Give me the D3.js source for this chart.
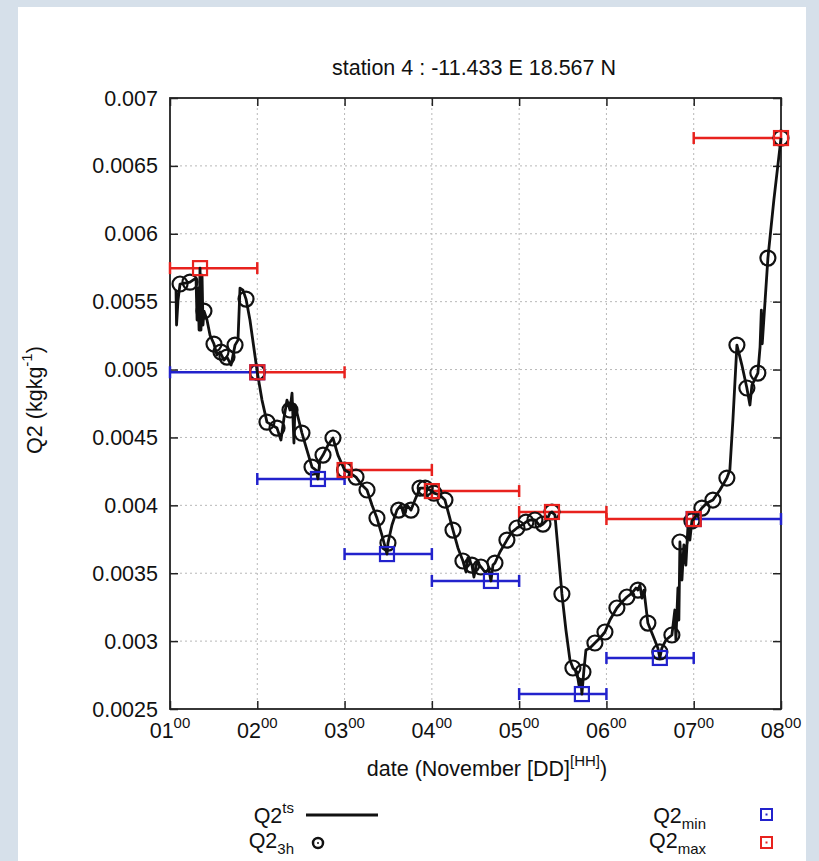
<!DOCTYPE html>
<html>
<head>
<meta charset="utf-8">
<script src="https://cdn.jsdelivr.net/npm/d3@7/dist/d3.min.js"></script>
<style>
  html, body { margin: 0; padding: 0; }
  body { width: 819px; height: 861px; overflow: hidden; background: #d6e0ea; }
  svg text { font-family: "Liberation Sans", Arial, sans-serif; fill: #111; }
</style>
</head>
<body>
<svg id="chart" width="819" height="861"></svg>
<script>
// ---------- data ----------
const title = "station 4 : -11.433 E 18.567 N";
const xTickDays = [1, 2, 3, 4, 5, 6, 7, 8];
const xTickLabels = ["01", "02", "03", "04", "05", "06", "07", "08"];
const xTickHour = "00";
const yTicks = [0.0025, 0.003, 0.0035, 0.004, 0.0045, 0.005, 0.0055, 0.006, 0.0065, 0.007];
const yTickLabels = ["0.0025", "0.003", "0.0035", "0.004", "0.0045", "0.005", "0.0055", "0.006", "0.0065", "0.007"];

// high-frequency time series Q2^ts (time in days of November, value in kg/kg)
const tsTime = [
  1.069, 1.075, 1.092, 1.115, 1.172, 1.229, 1.263, 1.298, 1.310, 1.321, 1.333, 1.344, 1.355, 1.367, 1.378, 1.389,
  1.424, 1.458, 1.504, 1.538, 1.573, 1.619, 1.653, 1.700, 1.745, 1.779, 1.802, 1.836, 1.871, 1.916, 2.000,
  2.054, 2.111, 2.168, 2.226, 2.271, 2.306, 2.340, 2.375, 2.398, 2.420, 2.432, 2.512, 2.569, 2.627, 2.672,
  2.695, 2.718, 2.753, 2.810, 2.867, 2.924, 3.000,
  3.062, 3.131, 3.199, 3.257, 3.314, 3.371, 3.428, 3.474, 3.486, 3.497, 3.543, 3.600, 3.646, 3.680, 3.715,
  3.761, 3.806, 3.864, 3.924, 4.000,
  4.024, 4.092, 4.150, 4.196, 4.242, 4.299, 4.356, 4.391, 4.413, 4.459, 4.482, 4.517, 4.562, 4.608, 4.654,
  4.677, 4.700, 4.723, 4.780, 4.860, 4.918, 4.975,
  5.032, 5.078, 5.124, 5.181, 5.238, 5.273, 5.318, 5.353, 5.376, 5.410, 5.444, 5.490, 5.536, 5.582, 5.616,
  5.662, 5.685, 5.708, 5.719, 5.742, 5.765, 5.811, 5.868, 5.926, 5.983,
  6.040, 6.120, 6.178, 6.235, 6.292, 6.338, 6.361, 6.384, 6.407, 6.430, 6.475, 6.544, 6.589, 6.612, 6.635,
  6.681, 6.750, 6.784, 6.796, 6.819, 6.830, 6.842, 6.865, 6.887, 6.910, 6.933, 6.956, 6.979, 7.000,
  7.037, 7.094, 7.151, 7.220, 7.300, 7.380, 7.414, 7.449, 7.495, 7.552, 7.609, 7.644, 7.667, 7.735, 7.760,
  7.775, 7.785, 7.850, 7.918, 8.000
];
const tsValue = [
  5.585e-3, 5.328e-3, 5.512e-3, 5.630e-3, 5.637e-3, 5.644e-3, 5.659e-3, 5.674e-3, 5.365e-3, 5.600e-3, 5.291e-3, 5.747e-3, 5.291e-3, 5.696e-3, 5.328e-3, 5.431e-3,
  5.365e-3, 5.254e-3, 5.188e-3, 5.107e-3, 5.129e-3, 5.070e-3, 5.092e-3, 5.033e-3, 5.180e-3, 5.217e-3, 5.600e-3, 5.585e-3, 5.519e-3, 5.365e-3, 4.980e-3,
  4.775e-3, 4.613e-3, 4.591e-3, 4.569e-3, 4.481e-3, 4.643e-3, 4.775e-3, 4.702e-3, 4.827e-3, 4.459e-3, 4.739e-3, 4.532e-3, 4.407e-3, 4.282e-3, 4.260e-3,
  4.194e-3, 4.334e-3, 4.370e-3, 4.444e-3, 4.496e-3, 4.370e-3, 4.260e-3,
  4.238e-3, 4.208e-3, 4.149e-3, 4.113e-3, 4.002e-3, 3.906e-3, 3.781e-3, 3.671e-3, 3.641e-3, 3.722e-3, 3.855e-3, 3.965e-3, 4.002e-3, 3.929e-3, 4.002e-3,
  3.965e-3, 4.039e-3, 4.127e-3, 4.127e-3, 4.105e-3,
  4.090e-3, 4.076e-3, 4.039e-3, 3.929e-3, 3.818e-3, 3.686e-3, 3.590e-3, 3.509e-3, 3.612e-3, 3.560e-3, 3.472e-3, 3.582e-3, 3.546e-3, 3.509e-3, 3.524e-3,
  3.443e-3, 3.560e-3, 3.575e-3, 3.656e-3, 3.744e-3, 3.803e-3, 3.833e-3,
  3.855e-3, 3.877e-3, 3.892e-3, 3.892e-3, 3.848e-3, 3.862e-3, 3.892e-3, 3.944e-3, 3.951e-3, 3.929e-3, 3.686e-3, 3.347e-3, 3.082e-3, 2.861e-3, 2.802e-3,
  2.772e-3, 2.677e-3, 2.714e-3, 2.610e-3, 2.787e-3, 2.934e-3, 2.949e-3, 2.986e-3, 3.023e-3, 3.067e-3,
  3.155e-3, 3.244e-3, 3.288e-3, 3.325e-3, 3.354e-3, 3.391e-3, 3.376e-3, 3.413e-3, 3.317e-3, 3.376e-3, 3.133e-3, 3.023e-3, 2.949e-3, 2.876e-3, 2.949e-3,
  3.008e-3, 3.045e-3, 3.229e-3, 3.008e-3, 3.391e-3, 3.155e-3, 3.730e-3, 3.450e-3, 3.708e-3, 3.560e-3, 3.833e-3, 3.744e-3, 3.885e-3, 3.899e-3,
  3.929e-3, 3.980e-3, 4.017e-3, 4.039e-3, 4.113e-3, 4.201e-3, 4.260e-3, 4.628e-3, 5.180e-3, 5.033e-3, 4.864e-3, 4.739e-3, 4.886e-3, 4.974e-3, 5.166e-3,
  5.438e-3, 5.190e-3, 5.821e-3, 6.248e-3, 6.705e-3
];

// 3-hourly samples Q2_3h
const h3Time = [
  1.115, 1.229, 1.389, 1.504, 1.584, 1.653, 1.745, 1.871, 2.000,
  2.111, 2.226, 2.375, 2.512, 2.627, 2.753, 2.867, 3.000,
  3.131, 3.257, 3.371, 3.497, 3.620, 3.761, 3.864, 3.924, 4.024,
  4.150, 4.242, 4.356, 4.459, 4.562, 4.723, 4.860, 4.975,
  5.078, 5.181, 5.273, 5.376, 5.490, 5.616, 5.731, 5.868, 5.983,
  6.120, 6.235, 6.361, 6.475, 6.612, 6.750, 6.842, 6.979,
  7.094, 7.220, 7.380, 7.495, 7.609, 7.735, 7.850, 8.000
];
const h3Value = [
  5.630e-3, 5.644e-3, 5.431e-3, 5.188e-3, 5.129e-3, 5.092e-3, 5.180e-3, 5.519e-3, 4.980e-3,
  4.613e-3, 4.569e-3, 4.702e-3, 4.532e-3, 4.282e-3, 4.370e-3, 4.496e-3, 4.260e-3,
  4.208e-3, 4.113e-3, 3.906e-3, 3.722e-3, 3.965e-3, 3.965e-3, 4.127e-3, 4.127e-3, 4.090e-3,
  4.039e-3, 3.818e-3, 3.590e-3, 3.560e-3, 3.546e-3, 3.575e-3, 3.744e-3, 3.833e-3,
  3.877e-3, 3.892e-3, 3.862e-3, 3.951e-3, 3.347e-3, 2.802e-3, 2.772e-3, 2.986e-3, 3.067e-3,
  3.244e-3, 3.325e-3, 3.376e-3, 3.133e-3, 2.920e-3, 3.045e-3, 3.730e-3, 3.885e-3,
  3.980e-3, 4.039e-3, 4.201e-3, 5.180e-3, 4.864e-3, 4.974e-3, 5.821e-3, 6.705e-3
];

// daily extremes: each bar spans its day [dayStart, dayStart+1]
const dayStart = [1, 2, 3, 4, 5, 6, 7];
const minTime = [2.000, 2.695, 3.486, 4.677, 5.719, 6.612, 7.000];
const minValue = [4.980e-3, 4.194e-3, 3.641e-3, 3.443e-3, 2.610e-3, 2.876e-3, 3.899e-3];
const maxTime = [1.344, 2.000, 3.000, 4.000, 5.376, 7.000, 8.000];
const maxValue = [5.747e-3, 4.980e-3, 4.260e-3, 4.105e-3, 3.951e-3, 3.899e-3, 6.705e-3];

// ---------- drawing ----------
const svg = d3.select("#chart");
const W = 819, H = 861;
const plot = { left: 170, right: 781, top: 98, bottom: 709 };
const x = d3.scaleLinear().domain([1, 8]).range([plot.left, plot.right]);
const y = d3.scaleLinear().domain([0.0025, 0.007]).range([plot.bottom, plot.top]);

const RED = "#e8221e", BLUE = "#2222cc";
const FS = 21.5, FSS = 15;

// white panel
svg.append("rect").attr("x", 18).attr("y", 7).attr("width", 788).attr("height", H - 7).attr("fill", "#ffffff");

// grid
const grid = svg.append("g").attr("stroke", "#b8b8b8").attr("stroke-width", 1).attr("stroke-dasharray", "2,3");
grid.selectAll("line.gx").data(xTickDays.slice(1, -1)).join("line")
  .attr("x1", d => x(d)).attr("x2", d => x(d)).attr("y1", plot.top).attr("y2", plot.bottom);
grid.selectAll("line.gy").data(yTicks.slice(1, -1)).join("line")
  .attr("x1", plot.left).attr("x2", plot.right).attr("y1", d => y(d)).attr("y2", d => y(d));

// axes (inward ticks, mirrored)
const tk = 8;
const axL = svg.append("g").attr("transform", `translate(${plot.left},0)`)
  .call(d3.axisRight(y).tickValues(yTicks).tickSize(tk).tickFormat(""));
const axR = svg.append("g").attr("transform", `translate(${plot.right},0)`)
  .call(d3.axisLeft(y).tickValues(yTicks).tickSize(tk).tickFormat(""));
const axB = svg.append("g").attr("transform", `translate(0,${plot.bottom})`)
  .call(d3.axisTop(x).tickValues(xTickDays).tickSize(tk).tickFormat(""));
const axT = svg.append("g").attr("transform", `translate(0,${plot.top})`)
  .call(d3.axisBottom(x).tickValues(xTickDays).tickSize(tk).tickFormat(""));
[axL, axR, axB, axT].forEach(a => {
  a.select(".domain").remove();
  a.selectAll("line").attr("stroke", "#222").attr("stroke-width", 1.5);
});
svg.append("rect").attr("x", plot.left).attr("y", plot.top)
  .attr("width", plot.right - plot.left).attr("height", plot.bottom - plot.top)
  .attr("fill", "none").attr("stroke", "#222").attr("stroke-width", 1.8);

// y tick labels
svg.append("g").selectAll("text").data(yTicks).join("text")
  .attr("x", plot.left - 12).attr("y", d => y(d)).attr("dy", "0.35em")
  .attr("text-anchor", "end").attr("font-size", FS)
  .text((d, i) => yTickLabels[i]);

// x tick labels with superscript hour
const xl = svg.append("g").selectAll("text").data(xTickDays).join("text")
  .attr("x", d => x(d)).attr("y", plot.bottom + 29).attr("text-anchor", "middle").attr("font-size", FS);
xl.append("tspan").text((d, i) => xTickLabels[i]);
xl.append("tspan").attr("font-size", FSS).attr("dy", -10).text(xTickHour);

// title
svg.append("text").attr("x", 474).attr("y", 75).attr("text-anchor", "middle").attr("font-size", FS).text(title);

// x axis label
const xt = svg.append("text").attr("x", 487).attr("y", 776).attr("text-anchor", "middle").attr("font-size", FS);
xt.append("tspan").text("date (November [DD]");
xt.append("tspan").attr("font-size", FSS).attr("dy", -10).text("[HH]");
xt.append("tspan").attr("dy", 10).text(")");

// y axis label
const yt = svg.append("text").attr("transform", "translate(42,400) rotate(-90)").attr("text-anchor", "middle").attr("font-size", FS);
yt.append("tspan").text("Q2 (kgkg");
yt.append("tspan").attr("font-size", FSS).attr("dy", -10).text("-1");
yt.append("tspan").attr("dy", 10).text(")");

// error bars (daily ranges)
function bars(times, values, color) {
  const g = svg.append("g").attr("stroke", color).attr("stroke-width", 2.5).attr("fill", "none");
  g.selectAll("line.h").data(dayStart).join("line")
    .attr("x1", d => x(d)).attr("x2", d => x(d + 1))
    .attr("y1", (d, i) => y(values[i])).attr("y2", (d, i) => y(values[i]));
  g.selectAll("line.c1").data(dayStart).join("line")
    .attr("x1", d => x(d)).attr("x2", d => x(d))
    .attr("y1", (d, i) => y(values[i]) - 6).attr("y2", (d, i) => y(values[i]) + 6);
  g.selectAll("line.c2").data(dayStart).join("line")
    .attr("x1", d => x(d + 1)).attr("x2", d => x(d + 1))
    .attr("y1", (d, i) => y(values[i]) - 6).attr("y2", (d, i) => y(values[i]) + 6);
  return g;
}
const minBars = bars(minTime, minValue, BLUE);
const maxBars = bars(maxTime, maxValue, RED);

// time series line
const tsData = tsTime.map((t, i) => [t, tsValue[i]]);
svg.append("path").datum(tsData)
  .attr("fill", "none").attr("stroke", "#111").attr("stroke-width", 2.8).attr("stroke-linejoin", "round")
  .attr("d", d3.line().x(d => x(d[0])).y(d => y(d[1])));

// 3h circles
svg.append("g").selectAll("circle").data(h3Time).join("circle")
  .attr("cx", d => x(d)).attr("cy", (d, i) => y(h3Value[i])).attr("r", 7.5)
  .attr("fill", "none").attr("stroke", "#111").attr("stroke-width", 2.2);

// extreme squares
function squares(times, values, color) {
  svg.append("g").selectAll("rect").data(times).join("rect")
    .attr("x", d => x(d) - 7).attr("y", (d, i) => y(values[i]) - 7)
    .attr("width", 14).attr("height", 14)
    .attr("fill", "none").attr("stroke", color).attr("stroke-width", 2.2);
}
squares(minTime, minValue, BLUE);
squares(maxTime, maxValue, RED);

// legend
const leg = svg.append("g").attr("font-size", FS);
const l1 = leg.append("text").attr("x", 294).attr("y", 823).attr("text-anchor", "end");
l1.append("tspan").text("Q2"); l1.append("tspan").attr("font-size", FSS).attr("dy", -10).text("ts");
leg.append("line").attr("x1", 306).attr("x2", 378).attr("y1", 815).attr("y2", 815).attr("stroke", "#111").attr("stroke-width", 2.8);
const l2 = leg.append("text").attr("x", 294).attr("y", 848).attr("text-anchor", "end");
l2.append("tspan").text("Q2"); l2.append("tspan").attr("font-size", FSS).attr("dy", 6).text("3h");
leg.append("circle").attr("cx", 318).attr("cy", 843).attr("r", 5).attr("fill", "none").attr("stroke", "#111").attr("stroke-width", 2.5);
leg.append("circle").attr("cx", 318).attr("cy", 843).attr("r", 1).attr("fill", "#111");
const l3 = leg.append("text").attr("x", 706).attr("y", 823).attr("text-anchor", "end");
l3.append("tspan").text("Q2"); l3.append("tspan").attr("font-size", FSS).attr("dy", 6).text("min");
const l4 = leg.append("text").attr("x", 706).attr("y", 848).attr("text-anchor", "end");
l4.append("tspan").text("Q2"); l4.append("tspan").attr("font-size", FSS).attr("dy", 6).text("max");
[[815, BLUE], [843, RED]].forEach(([cy, c]) => {
  leg.append("rect").attr("x", 761).attr("y", cy - 6).attr("width", 11).attr("height", 11)
    .attr("fill", "none").attr("stroke", c).attr("stroke-width", 2);
  leg.append("rect").attr("x", 765.5).attr("y", cy - 1.5).attr("width", 2).attr("height", 2).attr("fill", c);
});
</script>
</body>
</html>
